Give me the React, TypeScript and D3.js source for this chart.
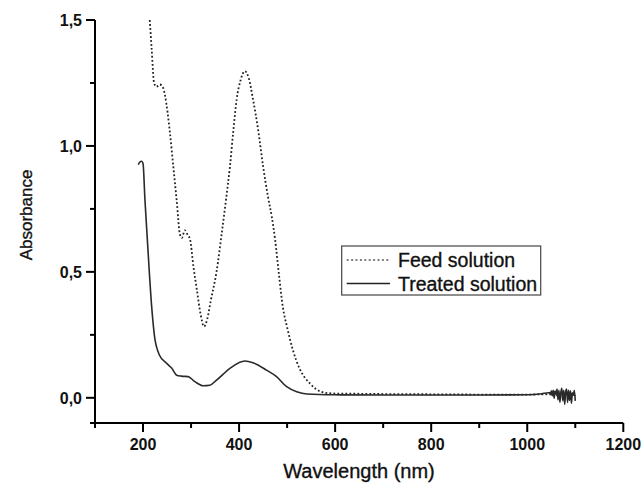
import React from "react";
import * as d3 from "d3";

const feedWl = [214, 218, 223, 228, 235, 242, 246, 256, 263, 270, 277, 281, 287, 292, 298, 305, 312, 320, 327, 334, 341, 353, 364, 373, 381, 388, 395, 403, 412, 420, 429, 440, 450, 460, 468, 475, 483, 491, 500, 512, 525, 537, 547, 560, 579, 600, 650, 700, 800, 900, 1000, 1040, 1046, 1052, 1058, 1064, 1070, 1076, 1082, 1088, 1094, 1100];
const feedAbs = [1.5, 1.384, 1.25, 1.235, 1.244, 1.23, 1.198, 1.053, 0.919, 0.786, 0.647, 0.635, 0.665, 0.65, 0.628, 0.52, 0.43, 0.33, 0.283, 0.315, 0.385, 0.5, 0.655, 0.79, 0.919, 1.06, 1.185, 1.26, 1.297, 1.27, 1.185, 1.06, 0.919, 0.8, 0.72, 0.628, 0.49, 0.362, 0.28, 0.19, 0.12, 0.08, 0.058, 0.035, 0.02, 0.017, 0.016, 0.015, 0.014, 0.013, 0.013, 0.014, 0.02, 0.01, 0.025, 0.005, 0.022, 0.0, 0.02, -0.005, 0.018, 0.005];

const treatedWl = [190, 193, 197, 200, 204, 209, 218, 225, 228, 234, 249, 260, 270, 280, 294, 308, 325, 339, 353, 381, 412, 429, 457, 478, 499, 520, 541, 600, 700, 800, 900, 1000, 1030, 1044,
  1046, 1048, 1050, 1052, 1054, 1056, 1058, 1060, 1062, 1064, 1066, 1068, 1070, 1072, 1074, 1076, 1078, 1080, 1082, 1084, 1086, 1088, 1090, 1092, 1094, 1096, 1098, 1100];
const treatedAbs = [0.926, 0.935, 0.939, 0.93, 0.786, 0.628, 0.362, 0.23, 0.203, 0.17, 0.137, 0.117, 0.09, 0.086, 0.084, 0.064, 0.048, 0.05, 0.07, 0.117, 0.146, 0.139, 0.11, 0.084, 0.044, 0.024, 0.015, 0.012, 0.011, 0.011, 0.011, 0.012, 0.016, 0.02,
  0.02, 0.012, 0.028, 0.008, 0.03, -0.002, 0.025, 0.015, 0.035, -0.008, 0.03, -0.018, 0.022, 0.038, -0.012, 0.03, -0.026, 0.025, 0.035, -0.018, 0.03, -0.01, 0.028, -0.022, 0.02, 0.01, 0.03, -0.012];

const xMajor = [200, 400, 600, 800, 1000, 1200];
const xMinor = [100, 300, 500, 700, 900, 1100];
const yMajor = [0, 0.5, 1.0, 1.5];
const yMinor = [-0.1, 0.25, 0.75, 1.25];
const yLabels = ["0,0", "0,5", "1,0", "1,5"];
const seriesNames = ["Feed solution", "Treated solution"];

const W = 642, H = 485;
const x = d3.scaleLinear().domain([100, 1200]).range([95, 623.3]);
const y = d3.scaleLinear().domain([-0.1, 1.5]).range([423, 20]);

export default function App() {
  const line = d3
    .line<[number, number]>()
    .x((d) => x(d[0]))
    .y((d) => y(d[1]))
    .curve(d3.curveMonotoneX);
  const feed = feedWl.map((w, i) => [w, feedAbs[i]] as [number, number]);
  const treated = treatedWl.map((w, i) => [w, treatedAbs[i]] as [number, number]);
  const font = "Liberation Sans, Arial, sans-serif";
  const ts = { stroke: "#111", strokeWidth: 0.35 };
  return (
    <svg width={W} height={H} style={{ position: "absolute", left: 0, top: 0, background: "#fff" }} fontFamily={font}>
      <path d={line(feed) || ""} fill="none" stroke="#222" strokeWidth={1.8} strokeDasharray="1.8,2.2" />
      <path d={line(treated) || ""} fill="none" stroke="#2a2a2a" strokeWidth={1.6} />
      {/* axes */}
      <line x1={x(100)} x2={x(1200)} y1={y(-0.1)} y2={y(-0.1)} stroke="#000" strokeWidth={2} />
      <line x1={x(100)} x2={x(100)} y1={y(-0.1)} y2={y(1.5)} stroke="#000" strokeWidth={2} />
      {xMajor.map((v) => (
        <g key={"xm" + v}>
          <line x1={x(v)} x2={x(v)} y1={y(-0.1)} y2={y(-0.1) + 9} stroke="#000" strokeWidth={2} />
          <text x={x(v)} y={450} textAnchor="middle" fontSize={16} fontWeight="bold" fill="#111">{v}</text>
        </g>
      ))}
      {xMinor.map((v) => (
        <line key={"xn" + v} x1={x(v)} x2={x(v)} y1={y(-0.1)} y2={y(-0.1) + 5} stroke="#000" strokeWidth={2} />
      ))}
      {yMajor.map((v, i) => (
        <g key={"ym" + v}>
          <line x1={x(100) - 9} x2={x(100)} y1={y(v)} y2={y(v)} stroke="#000" strokeWidth={2} />
          <text x={82} y={y(v) + 6} textAnchor="end" fontSize={16} fontWeight="bold" fill="#111">{yLabels[i]}</text>
        </g>
      ))}
      {yMinor.map((v) => (
        <line key={"yn" + v} x1={x(100) - 5} x2={x(100)} y1={y(v)} y2={y(v)} stroke="#000" strokeWidth={2} />
      ))}
      <text x={359} y={478} textAnchor="middle" fontSize={20} fill="#111" {...ts}>Wavelength (nm)</text>
      <text transform="translate(32,215) rotate(-90)" textAnchor="middle" fontSize={17} fill="#111" {...ts}>Absorbance</text>
      {/* legend */}
      <rect x={341.7} y={246} width={199} height={49} fill="#fff" stroke="#444" strokeWidth={1.2} />
      <line x1={346.7} x2={390} y1={260} y2={260} stroke="#555" strokeWidth={1.4} strokeDasharray="2,2.4" />
      <line x1={346.7} x2={390} y1={283.5} y2={283.5} stroke="#222" strokeWidth={1.4} />
      <text x={398} y={267} fontSize={19.5} fill="#111" {...ts}>{seriesNames[0]}</text>
      <text x={398} y={291} fontSize={19.5} fill="#111" {...ts}>{seriesNames[1]}</text>
    </svg>
  );
}
